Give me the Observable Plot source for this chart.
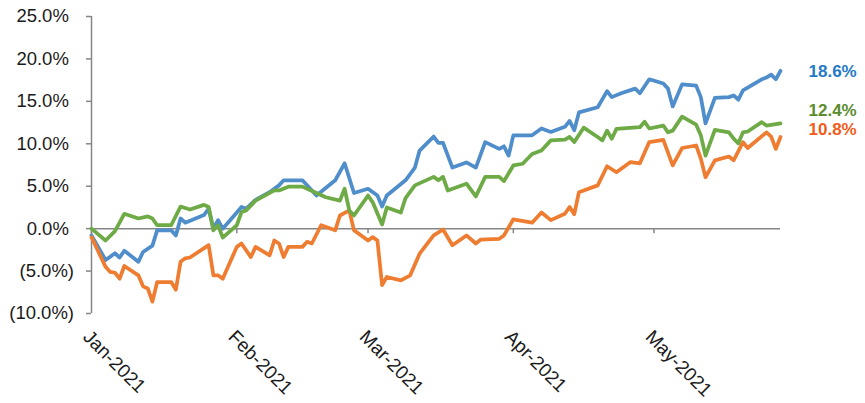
<!DOCTYPE html>
<html>
<head>
<meta charset="utf-8">
<script src="https://cdn.jsdelivr.net/npm/d3@7"></script>
<script src="https://cdn.jsdelivr.net/npm/@observablehq/plot@0.6"></script>
<style>
  html, body { margin: 0; padding: 0; background: #fff; }
  #chart svg { display: block; }
</style>
</head>
<body>
<div id="chart"></div>
<script>
// ---- Data (cumulative return, %) ----
const blueSeries = [["2021-01-01",-0.8],["2021-01-04",-3.7],["2021-01-05",-3.3],["2021-01-06",-2.9],["2021-01-07",-3.4],["2021-01-08",-2.6],["2021-01-11",-3.9],["2021-01-12",-2.75],["2021-01-14",-2.0],["2021-01-15",-0.2],["2021-01-18",-0.2],["2021-01-19",-0.8],["2021-01-20",1.2],["2021-01-21",0.7],["2021-01-25",1.6],["2021-01-26",2.35],["2021-01-27",0.0],["2021-01-28",1.0],["2021-01-29",0.0],["2021-02-01",1.9],["2021-02-02",2.55],["2021-02-03",2.35],["2021-02-05",3.4],["2021-02-08",4.3],["2021-02-10",5.1],["2021-02-11",5.7],["2021-02-15",5.7],["2021-02-18",3.9],["2021-02-22",5.7],["2021-02-24",7.7],["2021-02-26",4.2],["2021-03-01",4.7],["2021-03-03",3.9],["2021-03-04",2.6],["2021-03-05",3.9],["2021-03-09",5.7],["2021-03-11",7.2],["2021-03-12",9.2],["2021-03-15",10.85],["2021-03-16",10.1],["2021-03-17",10.1],["2021-03-19",7.2],["2021-03-22",7.8],["2021-03-24",7.2],["2021-03-26",10.2],["2021-03-29",9.4],["2021-03-30",9.7],["2021-03-31",8.6],["2021-04-01",11.0],["2021-04-05",11.0],["2021-04-07",11.8],["2021-04-09",11.4],["2021-04-12",12.0],["2021-04-13",12.7],["2021-04-14",11.6],["2021-04-15",13.7],["2021-04-19",14.3],["2021-04-21",16.2],["2021-04-22",15.5],["2021-04-24",15.95],["2021-04-27",16.5],["2021-04-28",15.95],["2021-04-30",17.6],["2021-05-03",17.1],["2021-05-04",16.5],["2021-05-05",14.4],["2021-05-07",17.0],["2021-05-10",16.85],["2021-05-11",15.5],["2021-05-12",12.4],["2021-05-14",15.4],["2021-05-17",15.5],["2021-05-18",15.7],["2021-05-19",15.2],["2021-05-20",16.3],["2021-05-24",17.6],["2021-05-25",17.8],["2021-05-26",18.15],["2021-05-27",17.6],["2021-05-28",18.6]];

const greenSeries = [["2021-01-01",0.0],["2021-01-04",-1.4],["2021-01-06",-0.3],["2021-01-08",1.75],["2021-01-11",1.2],["2021-01-13",1.45],["2021-01-14",1.2],["2021-01-15",0.4],["2021-01-18",0.4],["2021-01-20",2.6],["2021-01-22",2.25],["2021-01-25",2.8],["2021-01-26",2.55],["2021-01-27",-0.2],["2021-01-28",0.4],["2021-01-29",-1.05],["2021-02-01",0.4],["2021-02-02",1.95],["2021-02-03",2.15],["2021-02-05",3.3],["2021-02-09",4.5],["2021-02-10",4.5],["2021-02-12",4.95],["2021-02-15",4.95],["2021-02-18",4.2],["2021-02-20",3.7],["2021-02-23",3.3],["2021-02-24",4.7],["2021-02-25",2.15],["2021-02-26",1.55],["2021-03-01",3.9],["2021-03-02",3.1],["2021-03-04",0.5],["2021-03-05",2.5],["2021-03-08",1.9],["2021-03-09",3.6],["2021-03-11",5.1],["2021-03-15",6.1],["2021-03-16",5.7],["2021-03-17",6.1],["2021-03-18",4.5],["2021-03-22",5.3],["2021-03-24",3.8],["2021-03-26",6.1],["2021-03-29",6.1],["2021-03-30",5.6],["2021-04-01",7.45],["2021-04-03",7.65],["2021-04-05",8.8],["2021-04-07",9.2],["2021-04-09",10.4],["2021-04-12",10.5],["2021-04-13",10.8],["2021-04-14",10.2],["2021-04-16",11.9],["2021-04-19",10.8],["2021-04-20",10.4],["2021-04-21",11.55],["2021-04-22",10.6],["2021-04-23",11.75],["2021-04-28",11.95],["2021-04-29",12.6],["2021-04-30",11.8],["2021-05-03",12.15],["2021-05-04",11.35],["2021-05-05",11.55],["2021-05-07",13.2],["2021-05-10",12.25],["2021-05-11",11.0],["2021-05-12",8.6],["2021-05-14",11.65],["2021-05-17",11.35],["2021-05-18",10.6],["2021-05-19",10.05],["2021-05-20",11.35],["2021-05-21",11.45],["2021-05-24",12.55],["2021-05-25",12.15],["2021-05-28",12.4]];

const orangeSeries = [["2021-01-01",-1.0],["2021-01-04",-4.5],["2021-01-05",-5.1],["2021-01-06",-5.2],["2021-01-07",-5.9],["2021-01-08",-4.4],["2021-01-11",-5.5],["2021-01-12",-6.8],["2021-01-13",-7.05],["2021-01-14",-8.6],["2021-01-15",-6.3],["2021-01-18",-6.3],["2021-01-19",-7.2],["2021-01-20",-3.9],["2021-01-21",-3.5],["2021-01-22",-3.4],["2021-01-26",-1.95],["2021-01-27",-5.5],["2021-01-28",-5.5],["2021-01-29",-5.9],["2021-02-01",-2.15],["2021-02-02",-1.75],["2021-02-04",-3.35],["2021-02-05",-2.15],["2021-02-08",-3.15],["2021-02-09",-1.4],["2021-02-10",-1.75],["2021-02-11",-3.35],["2021-02-12",-2.15],["2021-02-15",-2.15],["2021-02-16",-1.55],["2021-02-17",-1.75],["2021-02-19",0.4],["2021-02-22",-0.2],["2021-02-23",1.55],["2021-02-25",2.15],["2021-02-26",-0.2],["2021-03-01",-1.4],["2021-03-02",-1.0],["2021-03-03",-1.4],["2021-03-04",-6.65],["2021-03-05",-5.7],["2021-03-08",-6.1],["2021-03-10",-5.5],["2021-03-12",-2.95],["2021-03-15",-0.8],["2021-03-17",-0.1],["2021-03-19",-1.95],["2021-03-22",-0.8],["2021-03-24",-1.75],["2021-03-25",-1.3],["2021-03-29",-1.2],["2021-03-30",-0.8],["2021-04-01",1.1],["2021-04-05",0.7],["2021-04-07",1.9],["2021-04-09",1.0],["2021-04-12",1.75],["2021-04-13",2.55],["2021-04-14",1.7],["2021-04-15",4.3],["2021-04-19",5.1],["2021-04-21",7.35],["2021-04-23",6.65],["2021-04-26",7.85],["2021-04-28",7.7],["2021-04-30",10.2],["2021-05-03",10.45],["2021-05-05",7.45],["2021-05-07",9.5],["2021-05-10",9.8],["2021-05-11",8.25],["2021-05-12",6.05],["2021-05-14",8.05],["2021-05-17",8.5],["2021-05-18",8.05],["2021-05-20",10.2],["2021-05-21",9.5],["2021-05-25",11.35],["2021-05-26",10.85],["2021-05-27",9.4],["2021-05-28",10.8]];

const monthTicks = ["2021-01-01","2021-02-01","2021-03-01","2021-04-01","2021-05-01"];
const monthLabels = ["Jan-2021","Feb-2021","Mar-2021","Apr-2021","May-2021"];
const yTicks = [-10, -5, 0, 5, 10, 15, 20, 25];
const xDomain = ["2021-01-01", "2021-05-28"];
const yDomain = [-10, 25];

// ---- Build ----
const parse = d3.utcParse("%Y-%m-%d");
const rows = (arr) => arr.map(([d, v]) => ({date: parse(d), value: v}));
const blue = rows(blueSeries), green = rows(greenSeries), orange = rows(orangeSeries);
const months = monthTicks.map(parse);
const x0 = parse(xDomain[0]), x1 = parse(xDomain[1]);

const fmtY = (v) => v < 0 ? `(${(-v).toFixed(1)}%)` : `${v.toFixed(1)}%\u00A0`;
const fmtEnd = (d) => `${d.value.toFixed(1)}%`;

const axisGray = "#868686";
const font = "Arial, 'Liberation Sans', sans-serif";

const chart = Plot.plot({
  width: 865,
  height: 403,
  marginLeft: 91,
  marginRight: 85,
  marginTop: 16,
  marginBottom: 90,
  style: {fontFamily: font, background: "#fff", color: "#222"},
  x: {type: "utc", domain: [x0, x1], axis: null},
  y: {domain: yDomain, axis: null},
  marks: [
    Plot.axisY(yTicks, {label: null, tickSize: 5, tickPadding: 12.5, tickFormat: fmtY, fontSize: 18.5, stroke: axisGray, strokeWidth: 1.5, fill: "#1a1a1a"}),
    Plot.ruleX([x0], {y1: yDomain[0], y2: yDomain[1], stroke: axisGray, strokeWidth: 1.5}),
    Plot.ruleY([0], {x1: x0, x2: x1, stroke: axisGray, strokeWidth: 1.5}),
    Plot.ruleX(months, {x: d => d, y1: 0, y2: -0.6, stroke: axisGray, strokeWidth: 1.5}),
    Plot.text(months, {x: d => d, text: (d, i) => monthLabels[i], frameAnchor: "bottom", dy: 15, dx: 0, rotate: 45, textAnchor: "start", lineAnchor: "top", fontSize: 19, fill: "#1a1a1a"}),
    Plot.lineY(blue, {x: "date", y: "value", stroke: "#4F8DCB", strokeWidth: 3.75, strokeLinejoin: "round", strokeLinecap: "round"}),
    Plot.lineY(orange, {x: "date", y: "value", stroke: "#EE7D31", strokeWidth: 3.75, strokeLinejoin: "round", strokeLinecap: "round"}),
    Plot.lineY(green, {x: "date", y: "value", stroke: "#6EAA45", strokeWidth: 3.75, strokeLinejoin: "round", strokeLinecap: "round"}),
    Plot.text(blue, Plot.selectLast({x: "date", y: "value", text: fmtEnd, dx: 28, dy: 1, textAnchor: "start", fill: "#2479C7", fontWeight: "bold", fontSize: 17})),
    Plot.text(green, Plot.selectLast({x: "date", y: "value", text: fmtEnd, dx: 28, dy: -13, textAnchor: "start", fill: "#5B8C2F", fontWeight: "bold", fontSize: 17})),
    Plot.text(orange, Plot.selectLast({x: "date", y: "value", text: fmtEnd, dx: 28, dy: -7, textAnchor: "start", fill: "#F25C1B", fontWeight: "bold", fontSize: 17}))
  ]
});
document.getElementById("chart").appendChild(chart);
</script>
</body>
</html>
